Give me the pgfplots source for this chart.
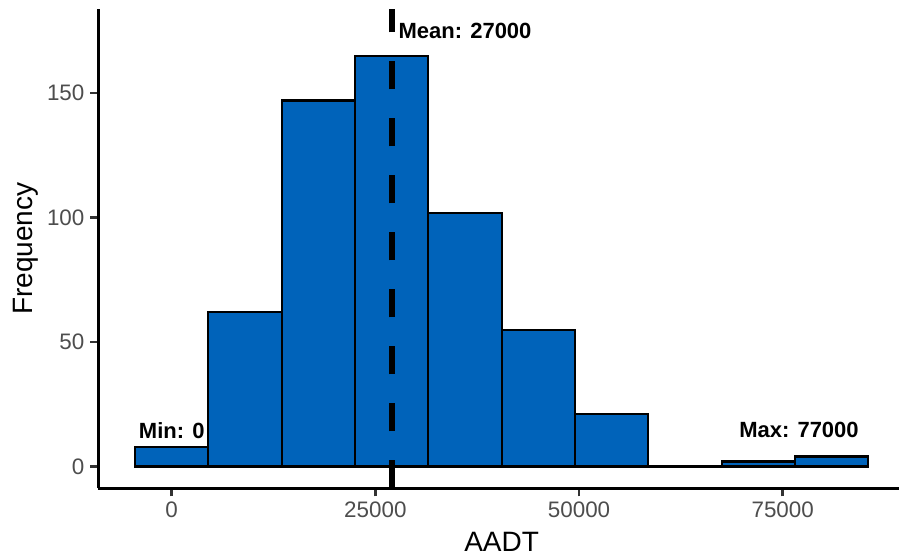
\documentclass[border=0pt]{standalone}
\usepackage{pgfplots}
\pgfplotsset{compat=1.18}
\usepackage{fontspec}
\setmainfont{Liberation Sans}
\definecolor{barblue}{HTML}{0063BA}
\definecolor{ticklab}{HTML}{4D4D4D}
\definecolor{tickcol}{HTML}{333333}
\begin{document}
\begin{tikzpicture}
\begin{axis}[
  at={(49.2pt,34.35pt)}, anchor=south west,
  scale only axis, width=403.25pt, height=239.6pt,
  xmin=-9000, xmax=90000, ymin=-8.75, ymax=183.75,
  axis x line=bottom, axis y line=left,
  axis line style={-, black, line width=1.35pt},
  xtick={0,25000,50000,75000}, ytick={0,50,100,150},
  tick align=outside, major tick length=4pt,
  tick style={tickcol, line width=1.35pt},
  scaled ticks=false,
  /pgf/number format/assume math mode=true,
  /pgf/number format/1000 sep={},
  ticklabel style={font=\fontsize{11.2}{13}\selectfont, text=ticklab},
  xticklabel style={inner sep=2.8pt},
  yticklabel style={inner sep=2.8pt},
  xlabel={AADT}, ylabel={Frequency},
  label style={font=\fontsize{14}{16}\selectfont, text=black},
  xlabel style={at={(axis description cs:0.5,-0.1323)}, anchor=base},
  ylabel style={at={(axis description cs:-0.0811,0.5)}, anchor=base, rotate=0},
  clip=true,
]
\addplot[ybar interval, fill=barblue, draw=black, line width=1.1pt] coordinates {
  (-4500,8) (4500,62) (13500,147) (22500,165) (31500,102) (40500,55)
  (49500,21) (58500,0) (67500,2) (76500,4) (85500,4)
};
\addplot[black, line width=3pt, dash pattern=on 14pt off 14.5pt, line cap=butt] coordinates {(27000,-8.75) (27000,183.75)};
\node[font=\fontsize{11}{13}\selectfont\bfseries, anchor=west, inner sep=0pt] at (axis cs:27800,175) {Mean: 27000};
\node[font=\fontsize{11}{13}\selectfont\bfseries, anchor=center, inner sep=0pt] at (axis cs:0,14.5) {Min: 0};
\node[font=\fontsize{11}{13}\selectfont\bfseries, anchor=center, inner sep=0pt] at (axis cs:77000,14.5) {Max: 77000};
\end{axis}
\pgfresetboundingbox
\path (0,0) rectangle (449.5pt,278.5pt);
\end{tikzpicture}
\end{document}
